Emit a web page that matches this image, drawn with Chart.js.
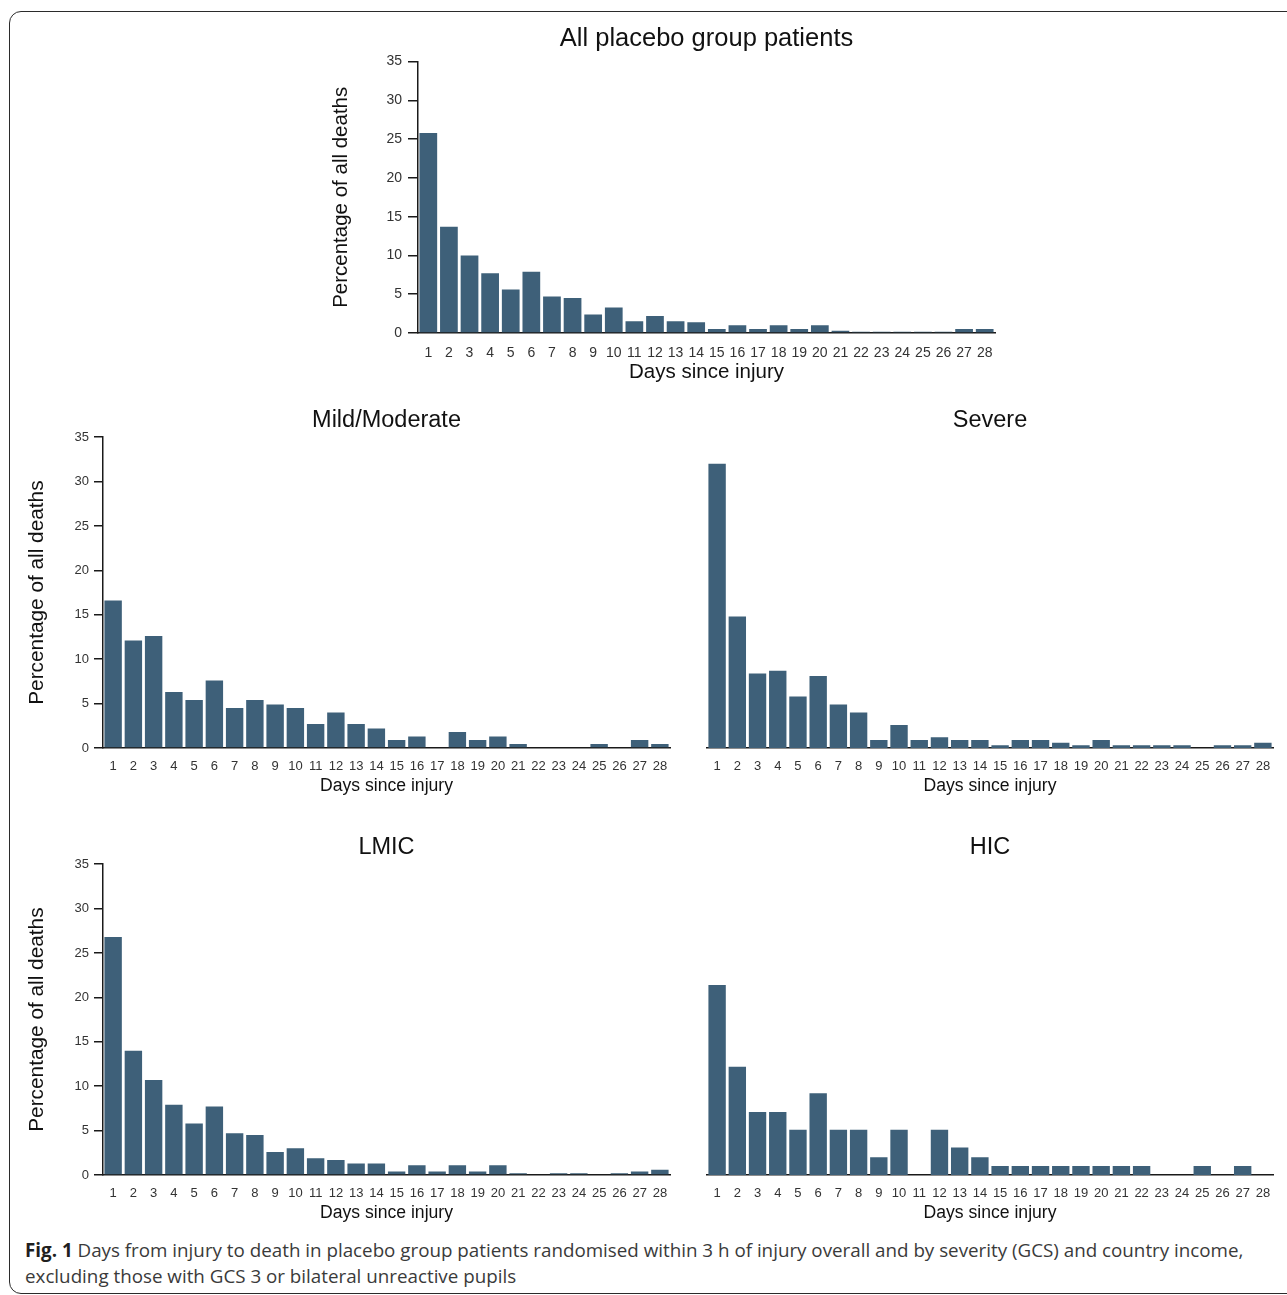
<!DOCTYPE html>
<html>
<head>
<meta charset="utf-8">
<script src="https://cdn.jsdelivr.net/npm/chart.js@4.4.0/dist/chart.umd.min.js"></script>
<style>
  body { margin: 0; width: 1287px; height: 1295px; overflow: hidden; background: #fff; position: relative; }
  .frame { position: absolute; left: 9px; top: 11px; width: 1300px; height: 1283px; border: 1.5px solid #2b2b2b; border-radius: 12px; box-sizing: border-box; }
  canvas { position: absolute; }
  .caption { position: absolute; left: 25px; top: 1237px; width: 1240px; font-family: "Open Sans", sans-serif; font-size: 18.8px; line-height: 26px; color: #3a3a3a; }
  .caption b { color: #1f1f1f; }
</style>
</head>
<body>
<div class="frame"></div>
<canvas id="allChart" width="773" height="370" style="left:320px;top:20px"></canvas>
<canvas id="mildChart" width="733" height="400" style="left:20px;top:400px"></canvas>
<canvas id="severeChart" width="607" height="400" style="left:680px;top:400px"></canvas>
<canvas id="lmicChart" width="733" height="400" style="left:20px;top:827px"></canvas>
<canvas id="hicChart" width="607" height="400" style="left:680px;top:827px"></canvas>
<div class="caption"><b>Fig. 1</b> Days from injury to death in placebo group patients randomised within 3 h of injury overall and by severity (GCS) and country income, excluding those with GCS 3 or bilateral unreactive pupils</div>

<script>
// days since injury (x categories)
const days = ['1', '2', '3', '4', '5', '6', '7', '8', '9', '10', '11', '12', '13', '14',
  '15', '16', '17', '18', '19', '20', '21', '22', '23', '24', '25', '26', '27', '28'];

// percentage of all deaths
const allPlacebo = [25.8, 13.7, 10.0, 7.7, 5.6, 7.9, 4.7, 4.5, 2.4, 3.3, 1.5, 2.2, 1.5, 1.4,
  0.5, 1.0, 0.5, 1.0, 0.5, 1.0, 0.3, 0.15, 0.15, 0.15, 0.15, 0.15, 0.5, 0.5];
const mildModerate = [16.6, 12.1, 12.6, 6.3, 5.4, 7.6, 4.5, 5.4, 4.9, 4.5, 2.7, 4.0, 2.7, 2.2,
  0.9, 1.3, 0, 1.8, 0.9, 1.3, 0.45, 0, 0, 0, 0.45, 0, 0.9, 0.45];
const severe = [32.0, 14.8, 8.4, 8.7, 5.8, 8.1, 4.9, 4.0, 0.9, 2.6, 0.9, 1.2, 0.9, 0.9,
  0.3, 0.9, 0.9, 0.6, 0.3, 0.9, 0.3, 0.3, 0.3, 0.3, 0, 0.3, 0.3, 0.6];
const lmic = [26.8, 14.0, 10.7, 7.9, 5.8, 7.7, 4.7, 4.5, 2.6, 3.0, 1.9, 1.7, 1.3, 1.3,
  0.4, 1.1, 0.4, 1.1, 0.4, 1.1, 0.2, 0, 0.2, 0.2, 0, 0.2, 0.4, 0.6];
const hic = [21.4, 12.2, 7.1, 7.1, 5.1, 9.2, 5.1, 5.1, 2.0, 5.1, 0, 5.1, 3.1, 2.0,
  1.0, 1.0, 1.0, 1.0, 1.0, 1.0, 1.0, 1.0, 0, 0, 1.0, 0, 1.0, 0];

const yMax = 35;
const yStep = 5;

const barColour = '#3e6079';
const axisColour = '#1a1a1a';
const sans = "'Liberation Sans', Arial, sans-serif";

// big = top panel, small = the four lower panels
const sizes = {
  big: { title: 25.5, titlePad: { top: 4, bottom: 7 }, tick: 14, tickPadX: 12, tickPadY: 6, tickLen: 10,
         axisTitle: 20.5, xTitlePad: 5, yTitlePad: 9, xHeight: 57, yWidth: 98 },
  small: { title: 23.5, titlePad: { top: 6, bottom: 3 }, tick: 13, tickPadX: 11, tickPadY: 5, tickLen: 9,
           axisTitle: 17.6, yAxisTitle: 20.8, xTitlePad: 3, yTitlePad: 5, xHeight: 52, yWidth: 83 }
};

function makeChart(id, title, values, s, showY, padding) {
  const ctx = document.getElementById(id).getContext('2d');
  const scales = {
    x: {
      grid: { display: false, drawTicks: false },
      border: { display: true, color: axisColour, width: 1.5 },
      ticks: { color: '#333', font: { family: sans, size: s.tick }, padding: s.tickPadX, maxRotation: 0, autoSkip: false },
      title: {
        display: true,
        text: 'Days since injury',
        color: '#111',
        font: { family: sans, size: s.axisTitle },
        padding: { top: 0, bottom: s.xTitlePad }
      },
      afterFit: scale => { scale.height = s.xHeight; }
    },
    y: {
      display: showY,
      min: 0,
      max: yMax,
      ticks: { stepSize: yStep, color: '#333', font: { family: sans, size: s.tick }, padding: s.tickPadY },
      grid: { display: true, drawOnChartArea: false, drawTicks: true, tickLength: s.tickLen, color: axisColour, lineWidth: 1.5 },
      border: { display: true, color: axisColour, width: 1.5 },
      title: {
        display: true,
        text: 'Percentage of all deaths',
        color: '#111',
        font: { family: sans, size: s.yAxisTitle || s.axisTitle },
        padding: { top: s.yTitlePad, bottom: 0 }
      },
      afterFit: scale => { if (showY) scale.width = s.yWidth; }
    }
  };
  if (showY) {
    // empty right-hand axis, same width as the left one, so the title sits over the plot
    scales.spacer = {
      type: 'linear',
      position: 'right',
      grid: { display: false },
      border: { display: false },
      ticks: { display: false },
      afterFit: scale => { scale.width = s.yWidth; }
    };
  }
  return new Chart(ctx, {
    type: 'bar',
    data: {
      labels: days,
      datasets: [{
        data: values,
        backgroundColor: barColour,
        barPercentage: 0.86,
        categoryPercentage: 1
      }]
    },
    options: {
      responsive: false,
      animation: false,
      layout: { padding: padding },
      plugins: {
        legend: { display: false },
        tooltip: { enabled: false },
        title: {
          display: true,
          text: title,
          color: '#111',
          font: { family: sans, size: s.title, weight: 'normal' },
          padding: s.titlePad
        }
      },
      scales: scales
    }
  });
}

makeChart('allChart', 'All placebo group patients', allPlacebo, sizes.big, true, { left: 0, right: 0, top: 0, bottom: 0 });
makeChart('mildChart', 'Mild/Moderate', mildModerate, sizes.small, true, { left: 0, right: 0, top: 0, bottom: 0 });
makeChart('severeChart', 'Severe', severe, sizes.small, false, { left: 27, right: 14, top: 0, bottom: 0 });
makeChart('lmicChart', 'LMIC', lmic, sizes.small, true, { left: 0, right: 0, top: 0, bottom: 0 });
makeChart('hicChart', 'HIC', hic, sizes.small, false, { left: 27, right: 14, top: 0, bottom: 0 });
</script>
</body>
</html>
